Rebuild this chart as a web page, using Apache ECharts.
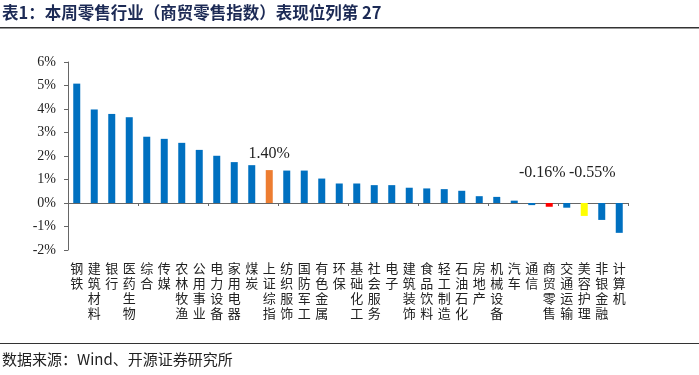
<!DOCTYPE html>
<html>
<head>
<meta charset="utf-8">
<script src="https://cdn.jsdelivr.net/npm/echarts@6/dist/echarts.min.js"></script>
<style>
  html, body { margin: 0; padding: 0; background: #fff; }
  #chart { width: 699px; height: 375px; }
</style>
</head>
<body>
<div id="chart"></div>
<script>
// 行业名称
var categories = ["钢铁", "建筑材料", "银行", "医药生物", "综合", "传媒", "农林牧渔", "公用事业",
  "电力设备", "家用电器", "煤炭", "上证综指", "纺织服饰", "国防军工", "有色金属", "环保",
  "基础化工", "社会服务", "电子", "建筑装饰", "食品饮料", "轻工制造", "石油石化", "房地产",
  "机械设备", "汽车", "通信", "商贸零售", "交通运输", "美容护理", "非银金融", "计算机"];
// 周涨跌幅 (%)
var values = [5.08, 3.98, 3.79, 3.65, 2.82, 2.73, 2.56, 2.26, 2.01, 1.74, 1.61, 1.40, 1.38, 1.38,
  1.04, 0.83, 0.83, 0.76, 0.76, 0.65, 0.62, 0.59, 0.52, 0.29, 0.26, 0.10, -0.09, -0.16, -0.20,
  -0.55, -0.72, -1.27];
// 需要特别标注的柱子
var highlight = { "上证综指": "#ED7D31", "商贸零售": "#FF0000", "美容护理": "#FFFF00" };
// 标签及其水平偏移
var labeled = { "上证综指": 0, "商贸零售": -7, "美容护理": 8 };
var yTicks = [-2, -1, 0, 1, 2, 3, 4, 5, 6];

var barData = categories.map(function (name, i) {
  var item = { value: values[i], itemStyle: { color: highlight[name] || "#0070C0" } };
  if (name in labeled) {
    var neg = values[i] < 0;
    item.label = {
      show: true,
      position: "top",
      distance: neg ? 22 : 8,
      offset: [labeled[name], 0],
      formatter: values[i].toFixed(2) + "%",
      fontFamily: "Liberation Serif",
      fontSize: 16,
      color: "#222"
    };
  }
  return item;
});

var myChart = echarts.init(document.getElementById("chart"));
myChart.setOption({
  animation: false,
  grid: { left: 68, right: 71, top: 62, bottom: 125 },
  xAxis: [
    {
      type: "category",
      data: categories,
      axisLine: { onZero: true, lineStyle: { color: "#666", width: 1 } },
      axisTick: { show: true, inside: false, length: 3, lineStyle: { color: "#666" } },
      axisLabel: { show: false }
    },
    {
      type: "category",
      position: "bottom",
      data: categories,
      axisLine: { show: false },
      axisTick: { show: false },
      axisLabel: {
        interval: 0,
        margin: 11,
        fontFamily: "Noto Sans CJK SC",
        fontSize: 13,
        lineHeight: 15,
        color: "#222",
        formatter: function (v) { return v.split("").join("\n"); }
      }
    }
  ],
  yAxis: {
    type: "value",
    min: yTicks[0],
    max: yTicks[yTicks.length - 1],
    interval: 1,
    axisLine: { show: true, lineStyle: { color: "#666" } },
    axisTick: { show: true, length: 4, lineStyle: { color: "#666" } },
    splitLine: { show: false },
    axisLabel: {
      fontFamily: "Liberation Serif",
      fontSize: 14,
      color: "#222",
      margin: 12,
      formatter: "{value}%"
    }
  },
  series: [{
    type: "bar",
    xAxisIndex: 0,
    barWidth: 7,
    data: barData
  }],
  graphic: [
    {
      type: "text", left: 2, top: 4,
      style: {
        text: "表1：本周零售行业（商贸零售指数）表现位列第 27",
        font: "bold 16.5px 'Noto Sans CJK SC'", fill: "#1c2a55"
      }
    },
    { type: "rect", shape: { x: 0, y: 27, width: 699, height: 1.5 }, style: { fill: "#333" } },
    { type: "rect", shape: { x: 0, y: 343, width: 699, height: 1 }, style: { fill: "#333" } },
    {
      type: "text", left: 2, top: 352,
      style: {
        text: "数据来源：Wind、开源证券研究所",
        font: "15px 'Noto Sans CJK SC'", fill: "#222"
      }
    }
  ]
});
</script>
</body>
</html>
